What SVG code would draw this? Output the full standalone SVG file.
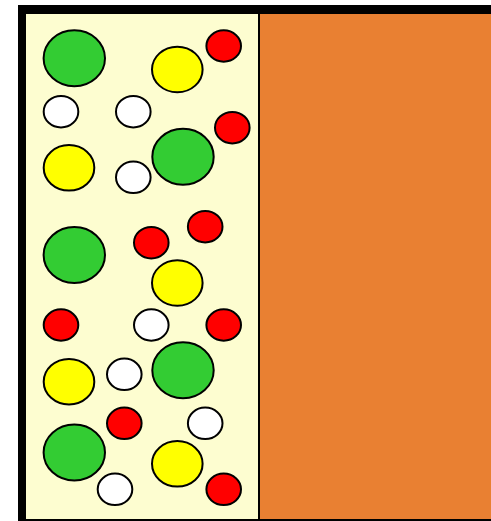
<svg xmlns="http://www.w3.org/2000/svg" width="491" height="521" viewBox="0 0 491 521">
<style>
.b{stroke:#000;stroke-width:2}
.g{fill:#33CC33}
.y{fill:#FFFF00}
.r{fill:#FF0000}
.w{fill:#FFFFFF}
</style>
<defs>
<ellipse id="L" rx="30.7" ry="28" class="b g"/>
<ellipse id="M" rx="25.3" ry="22.8" class="b y"/>
<ellipse id="SR" rx="17.3" ry="15.7" class="b r"/>
<ellipse id="SW" rx="17.3" ry="15.7" class="b w"/>
</defs>
<rect x="0" y="0" width="491" height="521" fill="#FFFFFF"/>
<rect x="18" y="5" width="473" height="516" fill="#000"/>
<rect x="26" y="14" width="232" height="505" fill="#FDFDD0"/>
<rect x="260" y="14" width="231" height="505" fill="#E98032"/>
<g id="particles">
<use href="#L" x="74.3" y="58.3"/>
<use href="#M" x="177.3" y="69.5"/>
<use href="#SR" x="223.7" y="46"/>
<use href="#SW" x="61" y="111.7"/>
<use href="#SW" x="133.3" y="111.7"/>
<use href="#SR" x="232.3" y="127.7"/>
<use href="#M" x="69" y="167.8"/>
<use href="#L" x="183" y="156.8"/>
<use href="#SW" x="133.3" y="177.3"/>
<use href="#SR" x="205.2" y="226.7"/>
<use href="#SR" x="151.3" y="242.7"/>
<use href="#L" x="74.3" y="255"/>
<use href="#M" x="177.3" y="283"/>
<use href="#SR" x="61" y="325"/>
<use href="#SW" x="151.3" y="325"/>
<use href="#SR" x="223.7" y="325"/>
<use href="#M" x="69" y="381.7"/>
<use href="#SW" x="124.3" y="374.3"/>
<use href="#L" x="183" y="370.3"/>
<use href="#SR" x="124.3" y="423.3"/>
<use href="#SW" x="205.2" y="423.3"/>
<use href="#L" x="74.3" y="452.5"/>
<use href="#M" x="177.3" y="463.8"/>
<use href="#SW" x="115" y="489.3"/>
<use href="#SR" x="223.7" y="489.3"/>
</g>
</svg>
